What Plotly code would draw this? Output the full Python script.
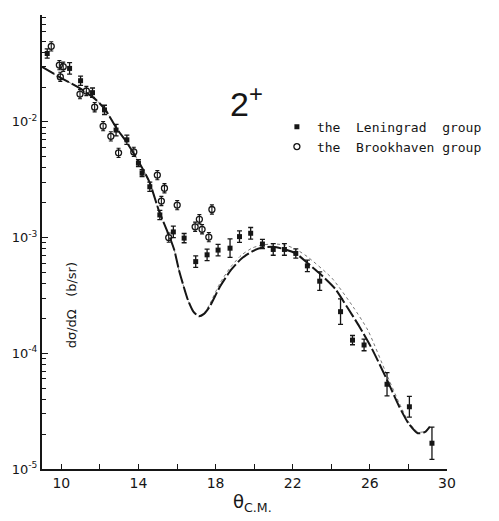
import plotly.graph_objects as go

# ---- data ----
len_theta = [9.27, 10.43, 11.0, 11.62, 12.24, 12.84, 13.4, 14.0, 14.19, 14.59, 15.11, 15.81, 16.37,
             16.97, 17.56, 18.13, 18.75, 19.24, 19.82, 20.43, 20.99, 21.57, 22.16, 22.76, 23.4,
             24.48, 25.1, 25.7, 26.89, 28.05, 29.22]
len_val = [0.039, 0.029, 0.0227, 0.0179, 0.0127, 0.0085, 0.0070, 0.0044, 0.0036, 0.00275, 0.00157,
           0.00112, 0.00099, 0.00062, 0.00071, 0.00078, 0.00081, 0.00102, 0.00109, 0.00088, 0.00079,
           0.00079, 0.00073, 0.00057, 0.00042, 0.000229, 0.00013, 0.000118, 0.000054, 0.0000345,
           0.0000167]
len_err_dec = [0.04, 0.05, 0.04, 0.04, 0.04, 0.05, 0.04, 0.03, 0.03, 0.04, 0.04, 0.05, 0.04,
               0.05, 0.05, 0.05, 0.08, 0.05, 0.05, 0.04, 0.05, 0.05, 0.04, 0.05, 0.08,
               0.11, 0.04, 0.05, 0.10, 0.09, 0.14]

brk_theta = [9.48, 9.9, 10.1, 9.95, 10.97, 11.3, 11.73, 12.17, 12.57, 12.97, 13.76, 14.98, 15.35,
             15.19, 16.01, 15.57, 16.94, 17.16, 17.3, 17.65, 17.81]
brk_val = [0.045, 0.031, 0.030, 0.0245, 0.0174, 0.0185, 0.0134, 0.0092, 0.0075, 0.0054, 0.0055,
           0.00347, 0.00267, 0.00207, 0.00191, 0.0010, 0.00124, 0.00144, 0.00118, 0.00101, 0.00175]
brk_err_dec = [0.04, 0.04, 0.04, 0.04, 0.04, 0.04, 0.04, 0.04, 0.04, 0.04, 0.04, 0.04, 0.04,
               0.04, 0.04, 0.04, 0.04, 0.04, 0.04, 0.04, 0.04]

dash_theta = [9.0, 10.0, 10.95, 11.81, 12.29, 12.86, 13.38, 14.05, 14.57, 15.05, 15.62, 15.86, 16.1,
              16.57, 16.85, 17.13, 17.4, 17.68, 18.24, 18.8, 19.35, 19.9, 20.38, 21.0, 21.57, 22.16,
              22.76, 23.4, 24.19, 24.82, 25.46, 26.1, 26.89, 27.52, 28.0, 28.48, 28.87, 29.11]
dash_val = [0.0299, 0.0239, 0.0196, 0.0155, 0.0127, 0.00885, 0.0067, 0.00442, 0.00303, 0.00173,
            0.00101, 0.00078, 0.000525, 0.000288, 0.000229, 0.000209, 0.000219, 0.000251, 0.00038,
            0.000525, 0.00066, 0.00076, 0.000818, 0.000832, 0.000794, 0.000731, 0.000603, 0.00049,
            0.000363, 0.000251, 0.00017, 0.00011, 0.0000589, 0.0000347, 0.0000248, 0.0000204,
            0.0000209, 0.0000232]

dot_theta = [9.0, 10.0, 10.95, 11.81, 12.29, 12.86, 13.38, 14.05, 14.57, 15.05, 15.62, 15.86, 16.1,
             16.57, 16.85, 17.13, 17.4, 17.68, 18.24, 18.8, 19.35, 19.9, 20.38, 21.0, 21.6, 22.16,
             22.76, 24.03, 25.14, 25.9, 26.89, 27.52, 28.0, 28.48, 28.87, 29.11]
dot_val = [0.0299, 0.0239, 0.0196, 0.0155, 0.0127, 0.00885, 0.0067, 0.00442, 0.00303, 0.00173,
           0.00101, 0.00078, 0.000525, 0.000288, 0.000229, 0.000209, 0.000222, 0.000263, 0.000407,
           0.000562, 0.000708, 0.000813, 0.000861, 0.000881, 0.000863, 0.000794, 0.000684,
           0.000447, 0.000251, 0.000158, 0.0000646, 0.0000372, 0.0000257, 0.0000209, 0.0000211,
           0.0000234]

y_tickvals = [1e-5, 1e-4, 1e-3, 1e-2]
y_ticktext = ["10<sup>-5</sup>", "10<sup>-4</sup>", "10<sup>-3</sup>", "10<sup>-2</sup>"]
x_tickvals = [10, 14, 18, 22, 26, 30]


def err_up(vals, decs):
    return [v * (10 ** d - 1) for v, d in zip(vals, decs)]


def err_dn(vals, decs):
    return [v * (1 - 10 ** (-d)) for v, d in zip(vals, decs)]


INK = "#161616"
fig = go.Figure()

fig.add_trace(go.Scatter(x=dot_theta, y=dot_val, mode="lines", showlegend=False,
                         line=dict(color="#777", width=1, dash="dot", shape="spline", smoothing=0.6),
                         hoverinfo="skip"))
fig.add_trace(go.Scatter(x=dash_theta, y=dash_val, mode="lines", showlegend=False,
                         line=dict(color=INK, width=2, dash="14px,3px", shape="spline", smoothing=0.6),
                         hoverinfo="skip"))

fig.add_trace(go.Scatter(
    x=len_theta, y=len_val, mode="markers", name="the  Leningrad  group",
    marker=dict(symbol="square", size=5, color=INK),
    error_y=dict(type="data", symmetric=False, array=err_up(len_val, len_err_dec),
                 arrayminus=err_dn(len_val, len_err_dec), color=INK, thickness=1.3, width=2.5)))
fig.add_trace(go.Scatter(
    x=brk_theta, y=brk_val, mode="markers", name="the  Brookhaven group",
    marker=dict(symbol="circle-open", size=6, color=INK, line=dict(width=1.3)),
    error_y=dict(type="data", symmetric=False, array=err_up(brk_val, brk_err_dec),
                 arrayminus=err_dn(brk_val, brk_err_dec), color=INK, thickness=1.1, width=2)))

minor_y = [m * 10 ** e for e in (-5, -4, -3, -2) for m in range(2, 10) if m * 10 ** e < 0.085]

fig.update_layout(
    width=499, height=521,
    margin=dict(l=41, r=17, t=15, b=52),
    paper_bgcolor="white", plot_bgcolor="white",
    font=dict(family="DejaVu Sans", color=INK, size=13),
    legend=dict(x=0.58, y=0.787, xanchor="left", yanchor="top", bgcolor="rgba(0,0,0,0)",
                font=dict(family="DejaVu Sans Mono", size=13), itemwidth=30, tracegroupgap=0),
    xaxis=dict(range=[9, 30], showline=True, linecolor=INK, linewidth=2, mirror=False,
               showgrid=False, zeroline=False, tickvals=x_tickvals,
               ticktext=[str(v) for v in x_tickvals], ticks="inside", ticklen=5, tickwidth=1.3,
               tickcolor=INK, tickfont=dict(size=14, family="DejaVu Sans"),
               minor=dict(tickvals=[12, 16, 20, 24, 28], ticks="inside", ticklen=5, tickwidth=1.3,
                          tickcolor=INK)),
    yaxis=dict(type="log", range=[-5, -1.076], showline=True, linecolor=INK, linewidth=2,
               showgrid=False, zeroline=False, tickvals=y_tickvals, ticktext=y_ticktext,
               ticks="inside", ticklen=6, tickwidth=1.3, tickcolor=INK,
               tickfont=dict(size=13, family="DejaVu Sans"),
               minor=dict(tickvals=minor_y, ticks="inside", ticklen=4, tickwidth=1, tickcolor=INK)),
)

fig.add_annotation(text="2<sup>+</sup>", xref="paper", yref="paper", x=0.505, y=0.862,
                   showarrow=False, font=dict(size=34, family="Liberation Sans", color=INK))
fig.add_annotation(text="dσ/dΩ   (b/sr)", xref="paper", yref="paper", x=0.05, y=0.36,
                   textangle=-90, showarrow=False, font=dict(size=13, family="DejaVu Sans", color=INK))
fig.add_annotation(text="θ<sub>C.M.</sub>", xref="paper", yref="paper", x=0.52, y=-0.075,
                   yanchor="middle", showarrow=False, font=dict(size=18, family="DejaVu Sans", color=INK))

fig.write_html("out.html")
